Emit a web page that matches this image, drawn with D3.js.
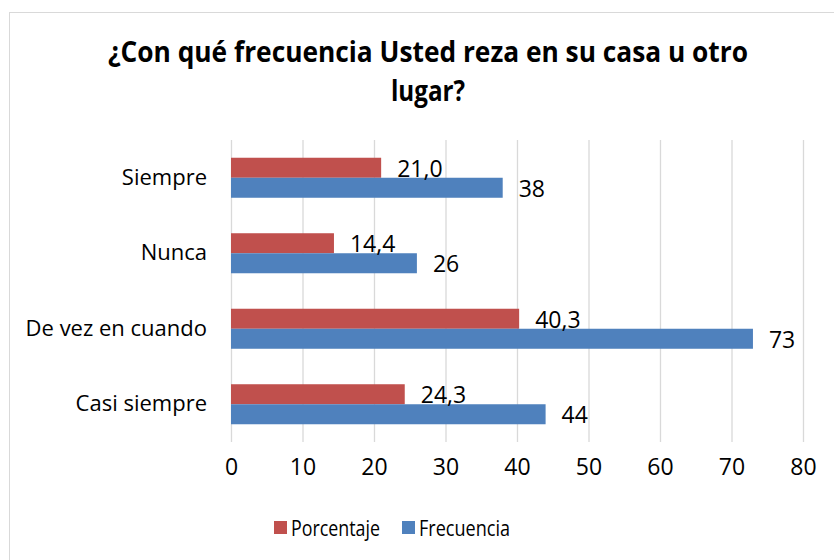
<!DOCTYPE html>
<html lang="es">
<head>
<meta charset="UTF-8">
<title>¿Con qué frecuencia Usted reza en su casa u otro lugar?</title>
<script src="https://d3js.org/d3.v7.min.js"></script>
<style>
  body { margin: 0; background: #fff; }
  text { font-family: "Open Sans", sans-serif; fill: #000; }
</style>
</head>
<body>
<script>
  var categories = ["Siempre", "Nunca", "De vez en cuando", "Casi siempre"];
  var porcentaje = [21.0, 14.4, 40.3, 24.3];
  var frecuencia = [38, 26, 73, 44];
  var seriesNames = ["Porcentaje", "Frecuencia"];
  var seriesColors = ["#C0504D", "#4F81BD"];
  var xTicks = [0, 10, 20, 30, 40, 50, 60, 70, 80];

  var width = 834, height = 560;
  var svg = d3.select("body").append("svg")
    .attr("width", width)
    .attr("height", height);

  // chart border
  svg.append("rect")
    .attr("x", 9.5).attr("y", 12.5)
    .attr("width", 840).attr("height", 560)
    .attr("fill", "none")
    .attr("stroke", "#d9d9d9");

  // title, two lines, squeezed to the reference width
  var title = svg.append("text")
    .attr("text-anchor", "middle")
    .style("font-weight", "bold")
    .style("font-size", "28px");
  title.append("tspan").attr("x", 428).attr("y", 62)
    .attr("textLength", 640).attr("lengthAdjust", "spacingAndGlyphs")
    .text("¿Con qué frecuencia Usted reza en su casa u otro");
  title.append("tspan").attr("x", 428).attr("y", 101)
    .attr("textLength", 74).attr("lengthAdjust", "spacingAndGlyphs")
    .text("lugar?");

  var x = d3.scaleLinear().domain([0, 80]).range([231, 803]);
  var y = d3.scaleBand().domain(categories).range([140, 442])
    .paddingInner(0.47).paddingOuter(0.235);
  var ySub = d3.scaleBand().domain(seriesNames).range([0, y.bandwidth()]);

  // gridlines
  svg.append("g")
    .selectAll("line")
    .data(xTicks)
    .join("line")
    .attr("x1", d => x(d) + 0.5).attr("x2", d => x(d) + 0.5)
    .attr("y1", 140).attr("y2", 442)
    .attr("stroke", "#d9d9d9")
    .attr("stroke-width", 1.3);

  // x axis labels
  var xAxis = svg.append("g")
    .attr("transform", "translate(0,442)")
    .call(d3.axisBottom(x).tickValues(xTicks).tickSize(0).tickPadding(17));
  xAxis.select(".domain").remove();
  xAxis.selectAll("text").style("font-size", "23px").attr("font-family", null);

  // y axis labels
  var yAxis = svg.append("g")
    .attr("transform", "translate(207,0)")
    .call(d3.axisLeft(y).tickSize(0).tickPadding(0));
  yAxis.select(".domain").remove();
  yAxis.selectAll("text").style("font-size", "22px").attr("font-family", null);

  var rows = categories.map(function (c, i) {
    return { cat: c, values: [porcentaje[i], frecuencia[i]] };
  });

  var groups = svg.append("g").selectAll("g")
    .data(rows)
    .join("g")
    .attr("transform", d => "translate(0," + y(d.cat) + ")");

  groups.selectAll("rect")
    .data(d => d.values.map((v, j) => ({ name: seriesNames[j], value: v, color: seriesColors[j] })))
    .join("rect")
    .attr("x", x(0))
    .attr("y", d => ySub(d.name))
    .attr("width", d => x(d.value) - x(0))
    .attr("height", ySub.bandwidth())
    .attr("fill", d => d.color);

  var fmt = function (d) {
    return d.name === "Porcentaje" ? d.value.toFixed(1).replace(".", ",") : String(d.value);
  };

  groups.selectAll("text.lbl")
    .data(d => d.values.map((v, j) => ({ name: seriesNames[j], value: v })))
    .join("text")
    .attr("class", "lbl")
    .attr("x", d => x(d.value) + 16)
    .attr("y", d => ySub(d.name) + ySub.bandwidth() / 2 + 1)
    .attr("dy", "0.35em")
    .style("font-size", "23px")
    .text(fmt);

  // legend
  var legend = svg.append("g");
  var legendX = [274, 402];
  var legendW = [89, 91];
  seriesNames.forEach(function (s, i) {
    legend.append("rect")
      .attr("x", legendX[i]).attr("y", 521)
      .attr("width", 13).attr("height", 13)
      .attr("fill", seriesColors[i]);
    legend.append("text")
      .attr("x", legendX[i] + 17).attr("y", 536)
      .attr("textLength", legendW[i]).attr("lengthAdjust", "spacingAndGlyphs")
      .style("font-size", "22px")
      .text(s);
  });
</script>
</body>
</html>
